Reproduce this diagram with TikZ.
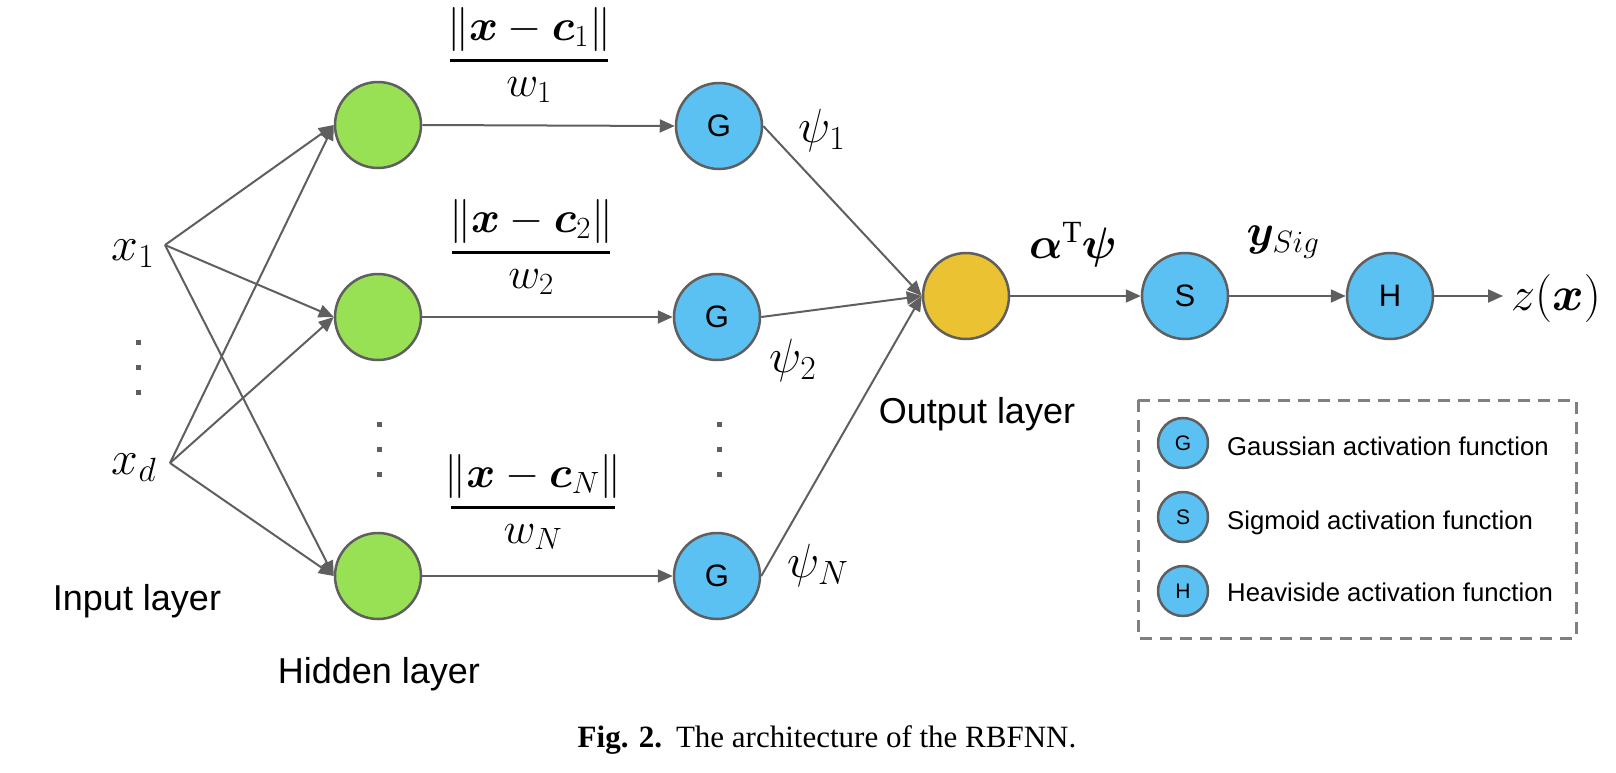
\RequirePackage{fix-cm}
\documentclass[tikz,border=0pt]{standalone}
\usepackage{amsmath}
\usepackage{bm}
\usepackage{fontspec}
\setmainfont{Liberation Serif}
\newfontfamily\arialf{Liberation Sans}
\usetikzlibrary{arrows.meta}
\definecolor{hgreen}{RGB}{152,225,85}
\definecolor{gblue}{RGB}{91,193,242}
\definecolor{oyel}{RGB}{234,194,50}
\definecolor{edgec}{RGB}{95,95,95}
\definecolor{lgray}{RGB}{128,128,128}
\tikzset{
  neuron/.style={circle, draw=edgec, line width=2.5pt, minimum size=86pt, inner sep=0pt, font=\arialf\fontsize{31}{33}\selectfont},
  hid/.style={neuron, fill=hgreen},
  act/.style={neuron, fill=gblue},
  outn/.style={neuron, fill=oyel},
  leg/.style={circle, draw=edgec, line width=2.5pt, minimum size=50pt, inner sep=0pt, fill=gblue, font=\arialf\fontsize{21}{23}\selectfont},
  conn/.style={draw=edgec, line width=2pt, -{Triangle[length=15pt,width=13pt]}},
  mathlbl/.style={font=\fontsize{44}{50}\selectfont, inner sep=0pt},
  symlbl/.style={font=\fontsize{48}{54}\selectfont, inner sep=0pt},
  fracbar/.style={draw=black, line width=3pt},
  sanslbl/.style={font=\arialf\fontsize{36}{40}\selectfont, inner sep=0pt, anchor=base},
  legtext/.style={font=\arialf\fontsize{25.7}{28}\selectfont, inner sep=0pt, anchor=base west},
  legbox/.style={draw=lgray, line width=3pt, dash pattern=on 12pt off 8pt},
  dotsq/.style={fill=edgec}
}
\newcommand{\vdotcol}[2]{%
  \fill[dotsq] (#1-2.5,#2-2.5) rectangle (#1+2.5,#2+2.5);
  \fill[dotsq] (#1-2.5,#2+22.5) rectangle (#1+2.5,#2+27.5);
  \fill[dotsq] (#1-2.5,#2+47.5) rectangle (#1+2.5,#2+52.5);}
\begin{document}
\begin{tikzpicture}[x=1pt,y=-1pt]
\useasboundingbox (0,0) rectangle (1616,772);

% input
\coordinate (x1p) at (165,245);
\coordinate (xdp) at (170,463);
\node[symlbl] (x1) at (133,254) {$x_1$};
\node[symlbl] (xd) at (134,468) {$x_d$};
\vdotcol{138}{342}

% hidden
\node[hid] (h1) at (378,125) {};
\node[hid] (h2) at (378,317) {};
\node[hid] (h3) at (378,576) {};
\vdotcol{379}{424}

% gaussian
\node[act] (g1) at (719,126) {G};
\node[act] (g2) at (717,317) {G};
\node[act] (g3) at (717,576) {G};
\vdotcol{719}{424}

% output chain
\node[outn] (out) at (966,296) {};
\node[act] (sn) at (1185,296) {S};
\node[act] (hn) at (1390,296) {H};
\coordinate (zend) at (1503,296);

% connectors
\foreach \h in {h1,h2,h3}{
  \draw[conn] (x1p) -- (\h.west);
  \draw[conn] (xdp) -- (\h.west);
}
\draw[conn] (h1.east) -- (g1.west);
\draw[conn] (h2.east) -- (g2.west);
\draw[conn] (h3.east) -- (g3.west);
\draw[conn] (g1.east) -- (out.west);
\draw[conn] (g2.east) -- (out.west);
\draw[conn] (g3.east) -- (out.west);
\draw[conn] (out.east) -- (sn.west);
\draw[conn] (sn.east) -- (hn.west);
\draw[conn] (hn.east) -- (zend);

% fractions
\node[mathlbl] (n1) at (529,29) {$\|\bm{x}-\bm{c}_1\|$};
\node[mathlbl] (d1) at (529,90) {$w_1$};
\draw[fracbar] (450,60) -- (608,60);
\node[mathlbl] (n2) at (531,221) {$\|\bm{x}-\bm{c}_2\|$};
\node[mathlbl] (d2) at (531,282) {$w_2$};
\draw[fracbar] (452,252) -- (610,252);
\node[mathlbl] (n3) at (533,476) {$\|\bm{x}-\bm{c}_N\|$};
\node[mathlbl] (d3) at (533,537) {$w_N$};
\draw[fracbar] (451,507) -- (615,507);

% psi labels
\node[symlbl] (p1) at (822,130) {$\psi_1$};
\node[symlbl] (p2) at (793,360) {$\psi_2$};
\node[symlbl] (pN) at (818,565) {$\psi_N$};

\node[mathlbl] (at) at (1073,245) {$\bm{\alpha}^{\mathrm{T}}\bm{\psi}$};
\node[mathlbl] (ys) at (1283,242) {$\bm{y}_{Sig}$};
\node[symlbl, anchor=west] (zx) at (1511,298) {$z(\bm{x})$};

% layer labels
\node[sanslbl] (inl) at (137,610) {Input layer};
\node[sanslbl] (hil) at (379,683) {Hidden layer};
\node[sanslbl] (oul) at (977,423) {Output layer};

% legend
\draw[legbox] (1138,400) rectangle (1576,638);
\node[leg] (lg) at (1183,443) {G};
\node[leg] (ls) at (1183,517) {S};
\node[leg] (lh) at (1183,591) {H};
\node[legtext] (tg) at (1227,455) {Gaussian activation function};
\node[legtext] (ts) at (1227,529) {Sigmoid activation function};
\node[legtext] (th) at (1227,601) {Heaviside activation function};

% caption
\node[font=\fontsize{31}{34}\selectfont, anchor=base, inner sep=0pt] (cap) at (827,747) {\textbf{Fig. 2.}\hspace{0.45em}The architecture of the RBFNN.};
\end{tikzpicture}
\end{document}
